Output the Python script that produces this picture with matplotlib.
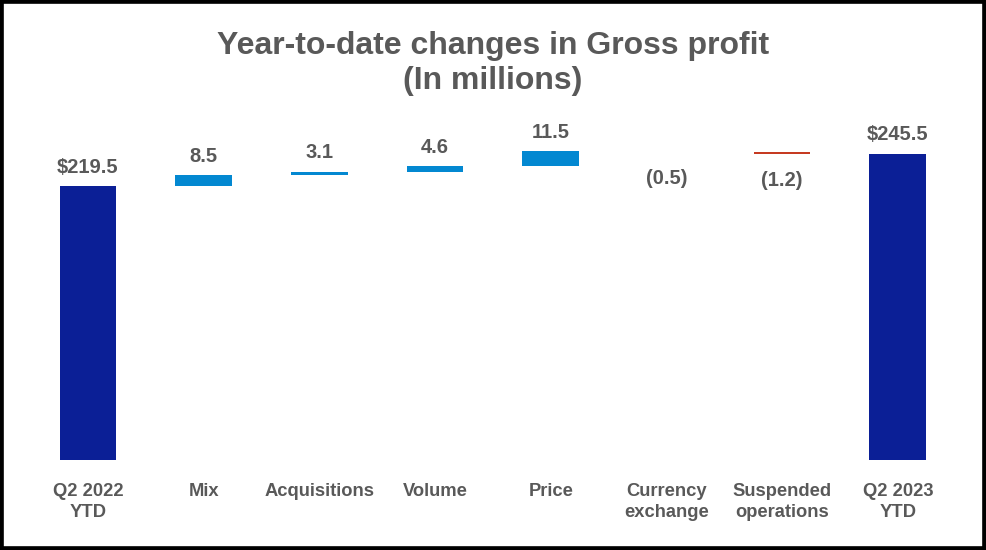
import matplotlib
matplotlib.use("Agg")
import matplotlib.pyplot as plt
from matplotlib.patches import Rectangle

categories = ["Q2 2022\nYTD", "Mix", "Acquisitions", "Volume", "Price",
              "Currency\nexchange", "Suspended\noperations", "Q2 2023\nYTD"]
values = [219.5, 8.5, 3.1, 4.6, 11.5, -0.5, -1.2, 245.5]
value_labels = ["$219.5", "8.5", "3.1", "4.6", "11.5", "(0.5)", "(1.2)", "$245.5"]
kinds = ["total", "delta", "delta", "delta", "delta", "delta", "delta", "total"]

GRAY = "#595959"
NAVY = "#0B1F96"
BLUE = "#0388D1"
RED = "#C63B22"

plt.rcParams["font.family"] = ["Liberation Sans", "DejaVu Sans"]

fig = plt.figure(figsize=(9.86, 5.5), dpi=100)
ax = fig.add_axes([30 / 986, 90 / 550, 925.7 / 986, 260 * 1.248 / 550])
ax.set_xlim(-0.5, len(categories) - 0.5)
ax.set_ylim(0, 260)
ax.axis("off")

running = 0.0
for i, (v, lab, k) in enumerate(zip(values, value_labels, kinds)):
    if k == "total":
        bottom, height, color = 0, v, NAVY
        running = v
    else:
        if v >= 0:
            bottom, height, color = running, v, BLUE
        else:
            bottom, height, color = running + v, -v, RED
        running += v
    alpha = 1.0 if height * 1.248 >= 1.0 else 0.0
    ax.bar(i, height, bottom=bottom, width=0.49, color=color, linewidth=0, alpha=alpha)
    if v >= 0 or k == "total":
        ax.annotate(lab, (i, bottom + height), xytext=(0, 9.5), textcoords="offset points",
                    ha="center", va="baseline", fontsize=14.5, fontweight="bold", color=GRAY)
    else:
        ax.annotate(lab, (i, bottom), xytext=(0, -23.3), textcoords="offset points",
                    ha="center", va="baseline", fontsize=14.5, fontweight="bold", color=GRAY)
    ax.text(i, -23 / (260 * 1.248), categories[i],
            transform=ax.get_xaxis_transform(), ha="center", va="top",
            fontsize=13.2, fontweight="bold", color=GRAY, linespacing=1.32)

fig.text(0.5, 1 - 63.5 / 550, "Year-to-date changes in Gross profit\n(In millions)",
         ha="center", va="center", fontsize=23, fontweight="bold", color=GRAY,
         linespacing=1.2)

fig.patches.append(Rectangle((0, 0), 1, 1, transform=fig.transFigure, fill=False,
                             edgecolor="black", linewidth=5.5, zorder=10))

fig.savefig("out.png", dpi=100)
